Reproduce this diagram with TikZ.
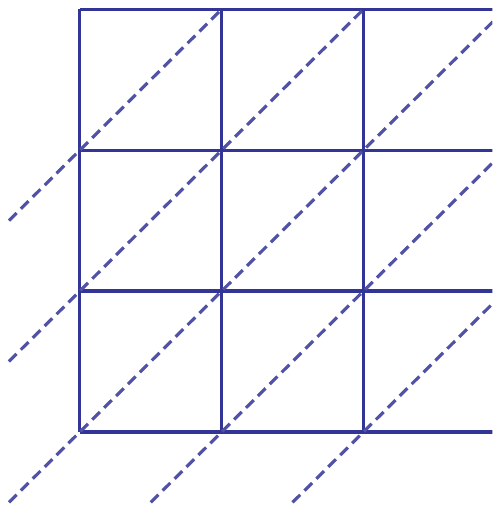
\documentclass[tikz,border=0pt]{standalone}
\usepackage{xcolor}
\usepackage{tikz}
\definecolor{gridblue}{RGB}{50,52,150}

\begin{document}
\begin{tikzpicture}[
  x=3cm, y=2.98cm,
  gridline/.style={draw=gridblue, line width=1.9pt},
  diagline/.style={draw=gridblue!85, line width=1.9pt, dash pattern=on 6.5pt off 3.6pt}
]

% frame of the picture
\useasboundingbox (-0.563,-0.54) rectangle (2.908,3.066);
\clip (-0.563,-0.54) rectangle (2.908,3.066);

% square grid
\foreach \i in {0,1,2,3} {
  \draw[gridline] (\i,0) -- (\i,3);
  \draw[gridline] (0,\i) -- (3.2,\i);
}

% dashed diagonals
\foreach \sx/\sy/\ex in {-0.5/1.5/1, -0.5/0.5/2, -0.5/-0.5/3, 0.5/-0.5/4, 1.5/-0.5/5} {
  \coordinate (dstart) at (\sx,\sy);
  \coordinate (dend) at (\ex,{\sy-\sx+\ex});
  \draw[diagline] (dstart) -- (dend);
}

\end{tikzpicture}
\end{document}
